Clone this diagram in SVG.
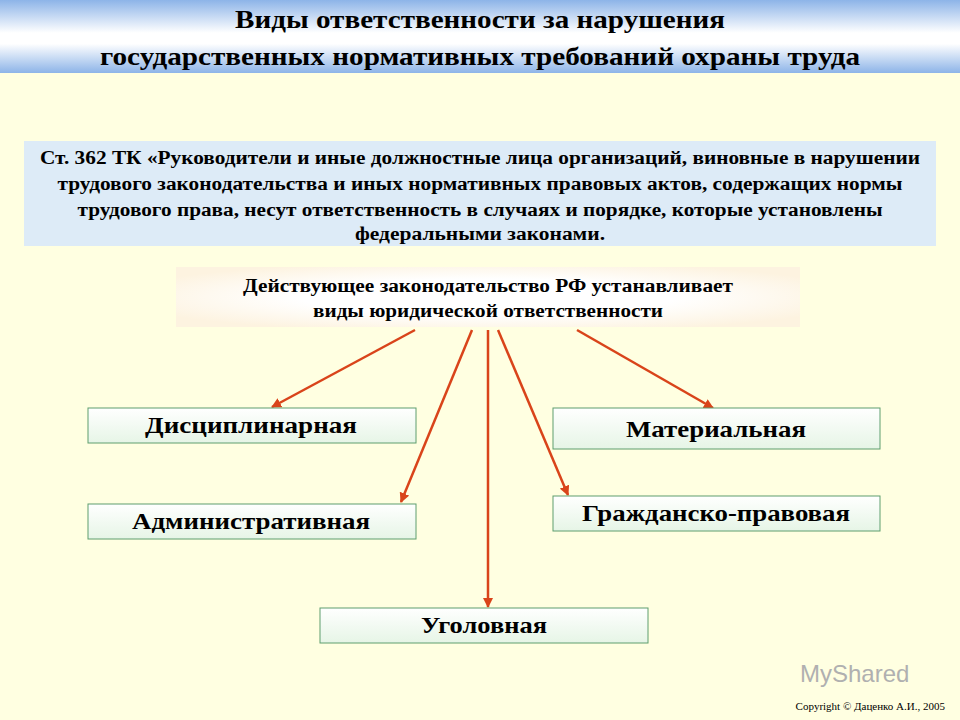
<svg xmlns="http://www.w3.org/2000/svg" width="960" height="720" viewBox="0 0 960 720">
<defs>
<linearGradient id="ban" x1="0" y1="0" x2="0" y2="1">
<stop offset="0" stop-color="#8DB4E8"/><stop offset="0.45" stop-color="#FFFFFF"/><stop offset="0.6" stop-color="#FFFFFF"/><stop offset="1" stop-color="#8DB4E8"/>
</linearGradient>
<linearGradient id="box" x1="0" y1="0" x2="0" y2="1">
<stop offset="0" stop-color="#FFFFFF"/><stop offset="1" stop-color="#E6F5E6"/>
</linearGradient>
<radialGradient id="mid" cx="0.5" cy="0.5" r="0.6">
<stop offset="0.5" stop-color="#FFFFFF"/><stop offset="1" stop-color="#FDF3E0"/>
</radialGradient>
<marker id="ah" markerWidth="10" markerHeight="10" refX="9" refY="5" orient="auto" markerUnits="userSpaceOnUse">
<path d="M0,0 L10,5 L0,10 z" fill="#D9441A"/>
</marker>
<style>
.t{font-family:"Liberation Serif",serif;font-weight:bold;fill:#000;text-anchor:middle}
.b{fill:url(#box);stroke:#5E9E6E;stroke-width:1}
.c line{stroke:#D9441A;stroke-width:2.5;marker-end:url(#ah)}
</style>
</defs>
<rect width="960" height="720" fill="#FFFFE1"/>
<rect x="0" y="0" width="960" height="73" fill="url(#ban)"/>
<text class="t" x="480" y="28" font-size="25" textLength="490" lengthAdjust="spacingAndGlyphs">Виды ответственности за нарушения</text>
<text class="t" x="480" y="65" font-size="25" textLength="760" lengthAdjust="spacingAndGlyphs">государственных нормативных требований охраны труда</text>
<g id="quote">
<rect x="24" y="141" width="912" height="105" fill="#DDEBF7"/>
<g class="t" font-size="18" lengthAdjust="spacingAndGlyphs">
<text x="480" y="164" textLength="880" lengthAdjust="spacingAndGlyphs">Ст. 362 ТК «Руководители и иные должностные лица организаций, виновные в нарушении</text>
<text x="480" y="190" textLength="845" lengthAdjust="spacingAndGlyphs">трудового законодательства и иных нормативных правовых актов, содержащих нормы</text>
<text x="480" y="216" textLength="805" lengthAdjust="spacingAndGlyphs">трудового права, несут ответственность в случаях и порядке, которые установлены</text>
<text x="480" y="240" textLength="250" lengthAdjust="spacingAndGlyphs">федеральными законами.</text>
</g>
</g>
<g id="law">
<rect x="176" y="267" width="624" height="60" fill="url(#mid)"/>
<text class="t" x="488" y="292" font-size="18" textLength="490" lengthAdjust="spacingAndGlyphs">Действующее законодательство РФ устанавливает</text>
<text class="t" x="488" y="317" font-size="18" textLength="350" lengthAdjust="spacingAndGlyphs">виды юридической ответственности</text>
</g>
<g class="c" id="connectors">
<line x1="415" y1="330" x2="272" y2="407"/>
<line x1="472" y1="330" x2="401" y2="502"/>
<line x1="488" y1="330" x2="488" y2="607"/>
<line x1="498" y1="330" x2="568" y2="495"/>
<line x1="577" y1="330" x2="713" y2="408"/>
</g>
<g id="n1"><rect class="b" x="88" y="408" width="328" height="35"/><text class="t" x="251" y="433" font-size="24" textLength="212" lengthAdjust="spacingAndGlyphs">Дисциплинарная</text></g>
<g id="n2"><rect class="b" x="88" y="504" width="328" height="35"/><text class="t" x="251" y="529" font-size="24" textLength="238" lengthAdjust="spacingAndGlyphs">Административная</text></g>
<g id="n3"><rect class="b" x="320" y="608" width="328" height="35"/><text class="t" x="484" y="633" font-size="24" textLength="126" lengthAdjust="spacingAndGlyphs">Уголовная</text></g>
<g id="n4"><rect class="b" x="553" y="408" width="327" height="41"/><text class="t" x="716" y="437" font-size="24" textLength="180" lengthAdjust="spacingAndGlyphs">Материальная</text></g>
<g id="n5"><rect class="b" x="553" y="496" width="327" height="35"/><text class="t" x="716" y="521" font-size="24" textLength="268" lengthAdjust="spacingAndGlyphs">Гражданско-правовая</text></g>
<text x="800" y="682" font-family="Liberation Sans,sans-serif" font-size="24" fill="#B0B0B0">MyShared</text>
<text x="945" y="710" font-family="Liberation Serif,serif" font-size="11" fill="#000" text-anchor="end">Copyright © Даценко А.И., 2005</text>
</svg>
